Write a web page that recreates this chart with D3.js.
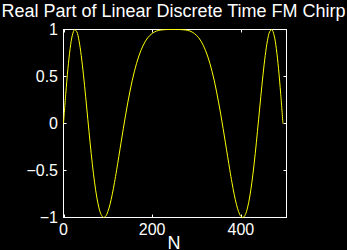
<!DOCTYPE html>
<html><head><meta charset="utf-8">
<script src="https://cdn.jsdelivr.net/npm/d3@7"></script>
<style>html,body{margin:0;padding:0;background:#000;overflow:hidden}</style>
</head><body>
<svg id="c" width="347" height="250"></svg>
<script>
const titleText = "Real Part of Linear Discrete Time FM Chirp";
const xLabel = "N";
const nValues = [0,5,10,15,20,25,30,35,40,45,50,55,60,65,70,75,80,85,90,95,100,105,110,115,120,130,140,150,160,170,180,190,200,210,220,230,240,255,265,275,285,295,305,315,325,335,345,355,365,375,380,385,390,395,400,405,410,415,420,425,430,435,440,445,450,455,460,465,470,475,480,485,490,495];
const realValues = [0.000,0.310,0.584,0.798,0.939,0.998,0.976,0.880,0.723,0.518,0.285,0.039,-0.204,-0.429,-0.624,-0.782,-0.898,-0.970,-0.999,-0.987,-0.938,-0.859,-0.753,-0.629,-0.491,-0.198,0.089,0.345,0.556,0.718,0.834,0.912,0.958,0.984,0.995,0.999,1.000,1.000,0.999,0.995,0.984,0.958,0.912,0.834,0.718,0.556,0.345,0.089,-0.198,-0.491,-0.629,-0.753,-0.859,-0.938,-0.987,-0.999,-0.970,-0.898,-0.782,-0.624,-0.429,-0.204,0.039,0.285,0.518,0.723,0.880,0.976,0.998,0.939,0.798,0.584,0.310,0.000];
const xTicks = [0,200,400];
const yTicks = [-1,-0.5,0,0.5,1];
const yTickLabels = ["\u22121","\u22120.5","0","0.5","1"];

const svg = d3.select("#c");
const L=63.5, R=286.5, T=29.5, B=217.5;
const x = d3.scaleLinear().domain([0,503]).range([L,R]);
const y = d3.scaleLinear().domain([-1,1]).range([B,T]);
const font = "'Liberation Sans', Arial, Helvetica, sans-serif";

// box
svg.append("rect").attr("x",L).attr("y",T).attr("width",R-L).attr("height",B-T)
  .attr("fill","none").attr("stroke","#fff").attr("stroke-width",1);

// ticks
const tl=3;
xTicks.forEach(v=>{
  const px=Math.round(x(v))+0.5;
  svg.append("line").attr("x1",px).attr("x2",px).attr("y1",B).attr("y2",B-tl).attr("stroke","#fff");
  svg.append("line").attr("x1",px).attr("x2",px).attr("y1",T).attr("y2",T+tl).attr("stroke","#fff");
  svg.append("text").attr("x",x(v)).attr("y",235).attr("text-anchor","middle")
    .attr("fill","#fff").attr("font-family",font).attr("font-size",16).text(d3.format("d")(v));
});
yTicks.forEach((v,i)=>{
  const py=Math.round(y(v)-0.5)+0.5;
  svg.append("line").attr("x1",L).attr("x2",L+tl).attr("y1",py).attr("y2",py).attr("stroke","#fff");
  svg.append("line").attr("x1",R).attr("x2",R-tl).attr("y1",py).attr("y2",py).attr("stroke","#fff");
  svg.append("text").attr("x",58).attr("y",y(v)+5.5).attr("text-anchor","end")
    .attr("fill","#fff").attr("font-family",font).attr("font-size",16).text(yTickLabels[i]);
});

// line
const line = d3.line().x((d,i)=>x(nValues[i])).y(d=>y(d)).curve(d3.curveCatmullRom);
svg.append("path").datum(realValues).attr("d",line).attr("fill","none")
  .attr("stroke","#ffff00").attr("stroke-width",1);

// title
svg.append("text").attr("x",173.5).attr("y",16.5).attr("text-anchor","middle")
  .attr("fill","#fff").attr("font-family",font).attr("font-size",18).text(titleText);
svg.append("text").attr("x",174).attr("y",249).attr("text-anchor","middle")
  .attr("fill","#fff").attr("font-family",font).attr("font-size",18).text(xLabel);
</script>
</body></html>
